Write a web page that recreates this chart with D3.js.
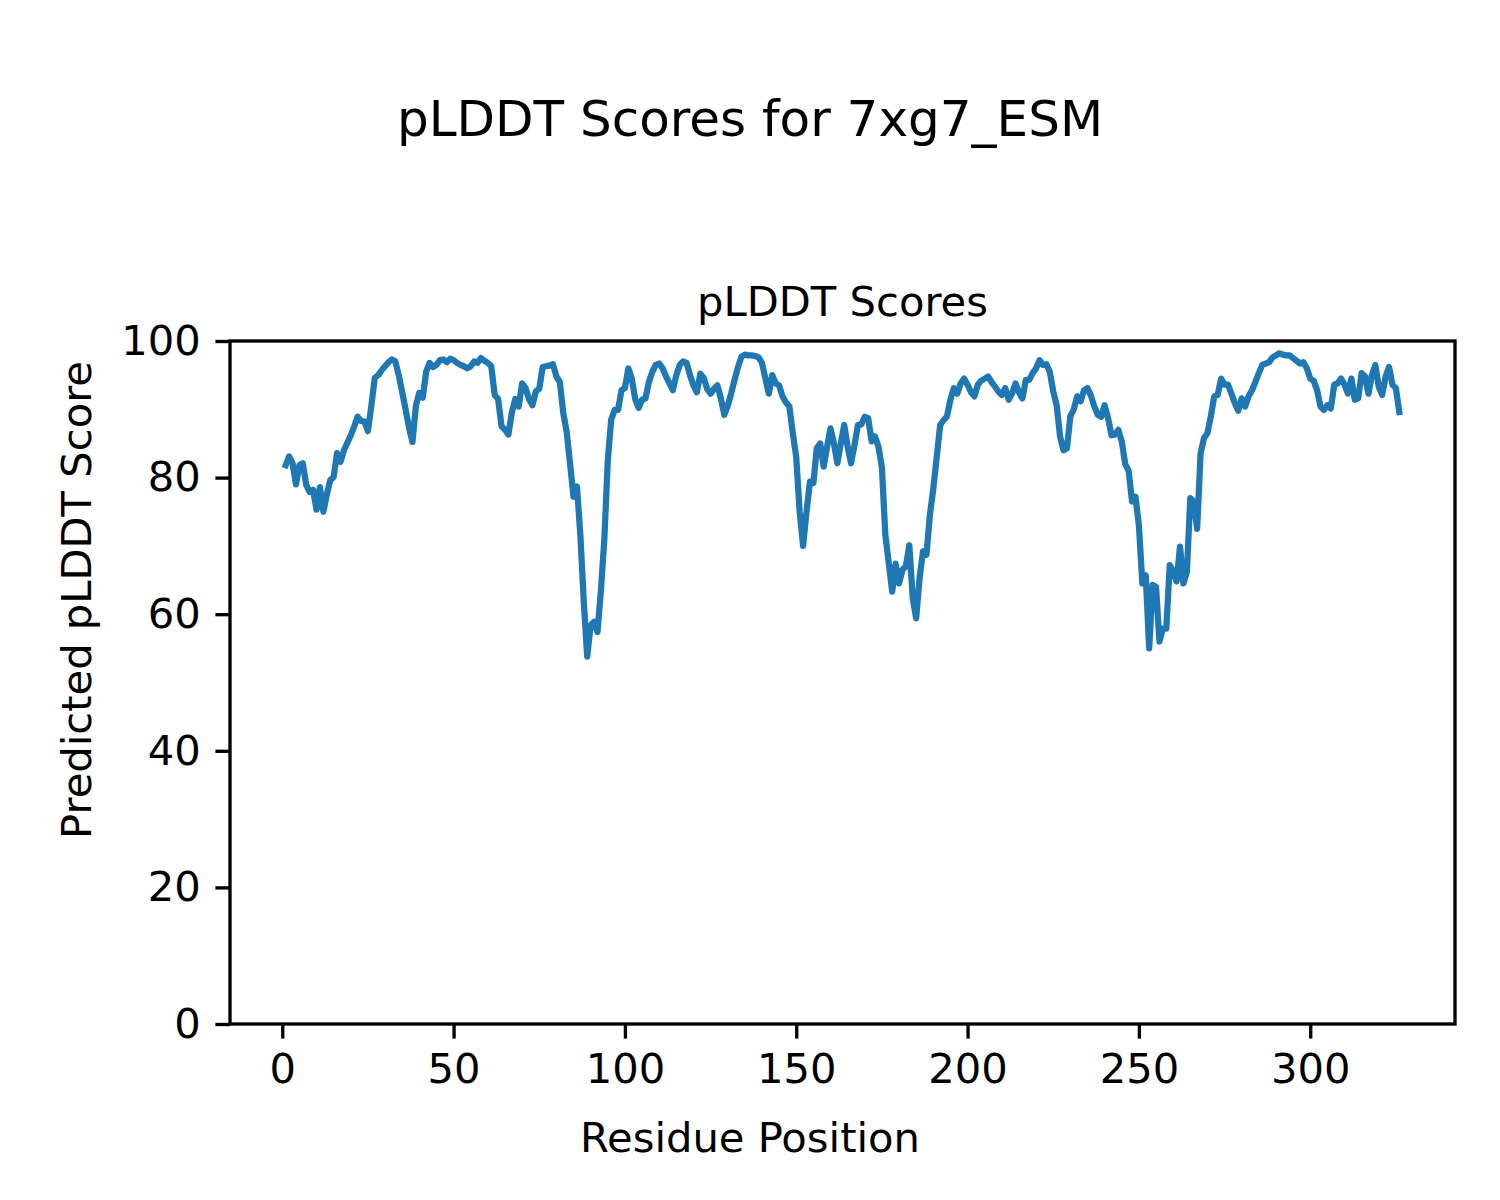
<!DOCTYPE html>
<html><head><meta charset="utf-8">
<script src="https://cdn.jsdelivr.net/npm/d3@7"></script>
<style>body{margin:0;background:#fff}svg{display:block}text{font-family:"DejaVu Sans",sans-serif;fill:#000}</style>
</head><body>
<script>
const figTitle = "pLDDT Scores for 7xg7_ESM";
const axTitle = "pLDDT Scores";
const xLabel = "Residue Position";
const yLabel = "Predicted pLDDT Score";
const xTicks = [0, 50, 100, 150, 200, 250, 300];
const yTicks = [0, 20, 40, 60, 80, 100];
const plddt = [
81.8, 83.1, 82.1, 79.0, 81.8, 82.1, 78.9, 77.9, 78.2, 75.3,
78.6, 75.0, 77.5, 79.6, 80.1, 83.6, 82.3, 84.0, 85.1, 86.2,
87.5, 88.9, 88.3, 88.2, 86.8, 90.5, 94.6, 95.0, 95.7, 96.3,
96.9, 97.3, 97.0, 95.0, 92.5, 90.0, 87.3, 85.2, 90.5, 92.4,
91.7, 95.5, 96.8, 96.2, 96.5, 97.2, 97.3, 96.9, 97.4, 97.2,
96.8, 96.5, 96.3, 96.0, 96.3, 97.0, 96.8, 97.5, 97.1, 96.8,
96.3, 92.1, 91.5, 87.5, 87.0, 86.3, 89.5, 91.5, 90.4, 93.8,
93.1, 91.5, 90.6, 92.6, 93.0, 96.2, 96.3, 96.4, 96.6, 94.8,
94.0, 89.5, 86.7, 82.0, 77.2, 78.7, 71.6, 61.8, 53.8, 58.4,
58.9, 57.4, 63.5, 71.0, 82.5, 88.5, 89.9, 89.9, 92.8, 93.1,
96.0, 94.5, 91.5, 90.2, 91.4, 91.6, 94.0, 95.5, 96.5, 96.7,
96.0, 94.8, 93.8, 92.8, 95.0, 96.5, 97.0, 96.8, 95.0, 93.5,
92.5, 95.2, 94.6, 93.0, 92.3, 93.0, 93.5, 91.6, 89.2, 90.5,
92.3, 94.3, 96.2, 97.7, 98.0, 97.9, 97.9, 97.8, 97.6, 96.8,
94.5, 92.3, 95.0, 93.8, 93.5, 91.9, 91.0, 90.4, 86.5, 83.0,
75.0, 70.0, 75.0, 79.4, 79.2, 84.3, 85.0, 81.6, 84.5, 87.2,
85.0, 82.1, 85.0, 87.7, 84.5, 82.1, 84.8, 87.7, 87.8, 88.9,
88.7, 85.3, 86.0, 84.5, 81.5, 71.6, 67.5, 63.3, 67.4, 64.5,
66.5, 67.0, 70.1, 62.3, 59.4, 65.3, 69.2, 68.7, 74.5, 78.4,
83.0, 87.7, 88.4, 89.0, 91.4, 93.1, 92.3, 93.8, 94.5, 93.6,
92.5, 91.9, 93.6, 94.2, 94.5, 94.8, 94.0, 93.3, 92.6, 92.1,
93.1, 91.4, 92.3, 93.8, 92.5, 91.6, 94.3, 94.3, 95.3, 96.0,
97.2, 96.5, 96.6, 95.5, 92.6, 90.6, 86.0, 84.0, 84.3, 89.0,
90.0, 91.9, 91.2, 92.8, 93.1, 92.0, 90.4, 89.2, 88.9, 90.6,
88.7, 86.2, 86.3, 87.0, 85.3, 82.0, 81.0, 76.5, 77.2, 73.0,
64.5, 65.7, 55.0, 64.3, 64.0, 56.0, 57.9, 57.9, 67.2, 66.2,
64.8, 69.9, 64.5, 66.2, 77.0, 76.5, 72.5, 83.5, 85.8, 86.5,
89.0, 91.9, 92.1, 94.5, 93.6, 93.6, 92.3, 90.9, 89.8, 91.6,
90.4, 91.9, 92.8, 94.0, 95.3, 96.5, 96.7, 96.9, 97.6, 97.9,
98.2, 98.0, 97.9, 97.9, 97.5, 97.1, 96.7, 96.9, 96.0, 94.5,
94.2, 92.8, 90.4, 89.9, 90.6, 90.1, 93.6, 93.8, 94.5, 93.6,
92.3, 94.5, 91.4, 91.6, 95.3, 94.8, 92.3, 95.0, 96.5, 93.3,
92.1, 94.8, 96.2, 93.6, 93.1, 89.6
];
const positions = plddt.map((v, i) => i + 1);

const W = 1500, H = 1200;
const L = 230, R = 1455, T = 341, B = 1024;
const svg = d3.select("body").append("svg").attr("width", W).attr("height", H);
svg.append("rect").attr("width", W).attr("height", H).attr("fill", "#fff");

const n0 = d3.min(positions), n1 = d3.max(positions), pad = (n1 - n0) * 0.05;
const x = d3.scaleLinear().domain([n0 - pad, n1 + pad]).range([L, R]);
const y = d3.scaleLinear().domain([0, 100]).range([B, T]);

const fs = 41.67, tickLen = 14.6, tickPad = 14.6, lw = 3.33;

// line
svg.append("path")
  .datum(plddt)
  .attr("fill", "none")
  .attr("stroke", "#1f77b4")
  .attr("stroke-width", 6.25)
  .attr("stroke-linejoin", "round")
  .attr("stroke-linecap", "square")
  .attr("d", d3.line().x((d, i) => x(positions[i])).y(d => y(d)));

// axes
const gx = svg.append("g").attr("transform", `translate(0,${B})`)
  .call(d3.axisBottom(x).tickValues(xTicks).tickSize(tickLen).tickPadding(tickPad).tickFormat(d3.format("d")));
const gy = svg.append("g").attr("transform", `translate(${L},0)`)
  .call(d3.axisLeft(y).tickValues(yTicks).tickSize(tickLen).tickPadding(tickPad).tickFormat(d3.format("d")));
[gx, gy].forEach(g => {
  g.select(".domain").remove();
  g.selectAll(".tick line").attr("stroke", "#000").attr("stroke-width", lw);
  g.selectAll(".tick text").attr("font-size", fs).attr("font-family", "DejaVu Sans").attr("fill", "#000");
});

// spines
svg.append("rect").attr("x", L).attr("y", T).attr("width", R - L).attr("height", B - T)
  .attr("fill", "none").attr("stroke", "#000").attr("stroke-width", lw);

// texts
svg.append("text").attr("x", 750).attr("y", 136).attr("text-anchor", "middle").attr("font-size", 50).text(figTitle);
svg.append("text").attr("x", (L + R) / 2).attr("y", 316).attr("text-anchor", "middle").attr("font-size", fs).text(axTitle);
svg.append("text").attr("x", 750).attr("y", 1152).attr("text-anchor", "middle").attr("font-size", fs).text(xLabel);
svg.append("text").attr("transform", "translate(91,600) rotate(-90)").attr("text-anchor", "middle").attr("font-size", fs).text(yLabel);
</script>
</body></html>
